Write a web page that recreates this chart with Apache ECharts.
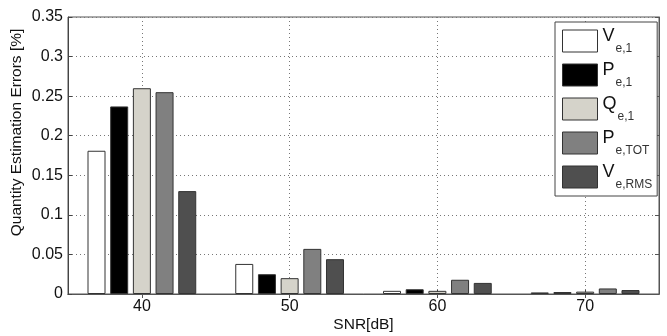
<!DOCTYPE html>
<html>
<head>
<meta charset="utf-8">
<script src="https://cdn.jsdelivr.net/npm/echarts@6/dist/echarts.min.js"></script>
<style>
  html, body { margin: 0; padding: 0; background: #fff; }
  #chart { width: 667px; height: 336px; }
</style>
</head>
<body>
<div id="chart"></div>
<script>
  /** Data */
  var snrLevels = ['40', '50', '60', '70'];
  var seriesNames = ['Ve,1', 'Pe,1', 'Qe,1', 'Pe,TOT', 'Ve,RMS'];
  var vE1 = [0.181, 0.038, 0.004, 0.002];
  var pE1 = [0.237, 0.025, 0.006, 0.0025];
  var qE1 = [0.260, 0.020, 0.004, 0.003];
  var pETot = [0.255, 0.057, 0.018, 0.007];
  var vERms = [0.130, 0.044, 0.014, 0.005];
  var yTicks = [0, 0.05, 0.1, 0.15, 0.2, 0.25, 0.3, 0.35];

  var seriesValues = [vE1, pE1, qE1, pETot, vERms];
  var barColors = ['#ffffff', '#000000', '#d5d3ca', '#808080', '#4f4f4f'];
  var font = 'Liberation Sans, Arial, sans-serif';

  var series = seriesNames.map(function(name, i) {
    return {
      name: name,
      type: 'bar',
      xAxisIndex: 0,
      yAxisIndex: 0,
      barWidth: 18,
      barGap: '26%',
      data: seriesValues[i],
      itemStyle: {
        color: barColors[i],
        borderColor: '#333',
        borderWidth: 1
      }
    };
  });

  var option = {
    backgroundColor: '#fff',
    animation: false,
    grid: {
      left: 68,
      right: 8,
      top: 17,
      bottom: 42,
      outerBoundsMode: 'none',
      containLabel: false,
      show: true,
      borderColor: '#555',
      borderWidth: 1,
      backgroundColor: '#fff'
    },
    legend: {
      orient: 'vertical',
      left: 555,
      top: 22,
      padding: [5, 5, 5, 7],
      itemWidth: 35,
      itemHeight: 22,
      itemGap: 6,
      backgroundColor: '#fff',
      borderColor: '#444',
      borderWidth: 1,
      icon: 'rect',
      itemStyle: { borderColor: '#333', borderWidth: 1 },
      data: seriesNames,
      formatter: function(name) {
        return '{m|' + name.charAt(0) + '}{s|' + name.slice(1) + '}';
      },
      textStyle: {
        rich: {
          m: { fontFamily: font, fontSize: 18, color: '#111', lineHeight: 22, verticalAlign: 'top' },
          s: { fontFamily: font, fontSize: 12, color: '#333', padding: [16, 0, 0, 1], verticalAlign: 'top' }
        }
      }
    },
    xAxis: [{
      type: 'category',
      data: snrLevels,
      name: 'SNR[dB]',
      nameLocation: 'middle',
      nameGap: 23,
      nameMoveOverlap: false,
      nameTextStyle: { fontFamily: font, fontSize: 15.5, color: '#111' },
      axisLine: { lineStyle: { color: '#444', width: 1 } },
      axisTick: { show: true, inside: true, alignWithLabel: true, length: 4, lineStyle: { color: '#444' } },
      axisLabel: { fontFamily: font, fontSize: 16, color: '#111', margin: 5 },
      splitLine: { show: true, alignWithLabel: true, lineStyle: { color: '#777', type: [1, 3] } }
    }, {
      type: 'category',
      position: 'top',
      data: snrLevels,
      axisLine: { show: true, lineStyle: { color: '#555' } },
      axisTick: { show: true, inside: true, alignWithLabel: true, length: 4, lineStyle: { color: '#555' } },
      axisLabel: { show: false },
      splitLine: { show: false }
    }],
    yAxis: [{
      type: 'value',
      min: 0,
      max: 0.35,
      interval: 0.05,
      name: 'Quantity Estimation Errors [%]',
      nameLocation: 'middle',
      nameGap: 43,
      nameMoveOverlap: false,
      nameTextStyle: { fontFamily: font, fontSize: 15.5, color: '#111', padding: [0, 0, 0, 46] },
      axisLine: { show: true, lineStyle: { color: '#444' } },
      axisTick: { show: true, inside: true, length: 4, lineStyle: { color: '#444' } },
      axisLabel: {
        fontFamily: font, fontSize: 16, color: '#111', margin: 5,
        formatter: function(v) {
          for (var i = 0; i < yTicks.length; i++) {
            if (Math.abs(yTicks[i] - v) < 1e-9) return String(yTicks[i]);
          }
          return '';
        }
      },
      splitLine: { show: true, lineStyle: { color: '#777', type: [1, 3] } }
    }, {
      type: 'value',
      position: 'right',
      min: 0,
      max: 0.35,
      interval: 0.05,
      axisLine: { show: true, lineStyle: { color: '#555' } },
      axisTick: { show: true, inside: true, length: 4, lineStyle: { color: '#555' } },
      axisLabel: { show: false },
      splitLine: { show: false }
    }],
    series: series
  };

  echarts.init(document.getElementById('chart')).setOption(option);
</script>
</body>
</html>
